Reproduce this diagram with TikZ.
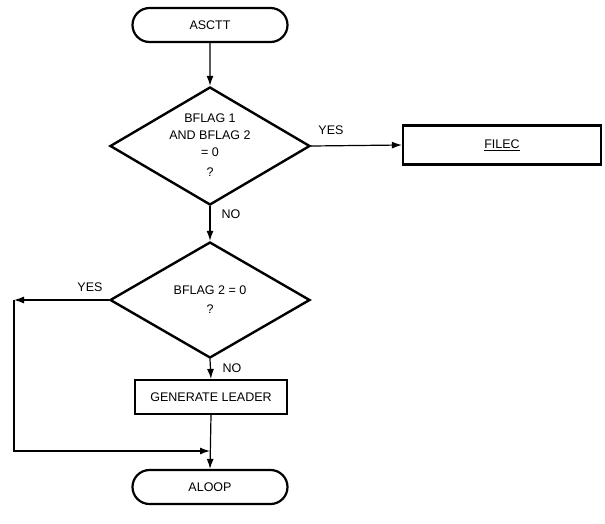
\documentclass[tikz,border=0pt]{standalone}
\usepackage{fontspec}
\setmainfont{Liberation Sans}
\usetikzlibrary{shapes.geometric,shapes.misc,arrows.meta}
\begin{document}
\begin{tikzpicture}[x=1pt,y=1pt,
  font=\fontsize{12.5}{17}\selectfont,
  terminal/.style={draw,line width=2.2pt,rounded rectangle,minimum width=155pt,minimum height=34pt,inner sep=0pt},
  procbox/.style={draw,line width=2.2pt,rectangle,inner sep=0pt},
  decision/.style={draw,line width=2.4pt,diamond,aspect=1.67,inner sep=0pt,minimum width=200pt,minimum height=118pt,align=center},
  flow/.style={line width=1.2pt,-{Latex[length=10pt,width=7pt]}},
  lbl/.style={inner sep=0pt}]
\useasboundingbox (0,0) rectangle (605,-523);

\node[terminal] (start) at (210,-25) {ASCTT};
\node[decision] (d1) at (210,-146) {\\[-10pt]BFLAG 1\\AND BFLAG 2\\= 0\\[3pt]?};
\node[procbox,minimum width=198pt,minimum height=39pt] (filec) at (502,-145) {\underline{FILEC}};
\node[decision,minimum height=116pt] (d2) at (210,-300) {BFLAG 2 = 0\\[2pt]?};
\node[procbox,minimum width=152pt,minimum height=34pt] (gen) at (211,-397) {GENERATE LEADER};
\node[terminal] (stop) at (210,-487) {ALOOP};

\coordinate (cornerA) at (14,-300);
\coordinate (cornerB) at (14,-451);
\coordinate (join) at (210,-451);

\draw[flow] (start) -- (d1.north);
\draw[flow] (d1.east) -- (filec.west);
\draw[flow] (d1.south) -- (d2.north);
\draw[flow] (d2.south) -- (gen.north);
\draw[flow] (d2.west) -- (cornerA);
\draw[flow] (cornerA) -- (cornerB) -- (join);
\draw[flow] (gen.south) -- (stop.north);

\node[lbl] (yes1) at (331,-130) {YES};
\node[lbl] (no1) at (231,-214) {NO};
\node[lbl] (yes2) at (90,-287) {YES};
\node[lbl] (no2) at (232,-368) {NO};
\end{tikzpicture}
\end{document}
